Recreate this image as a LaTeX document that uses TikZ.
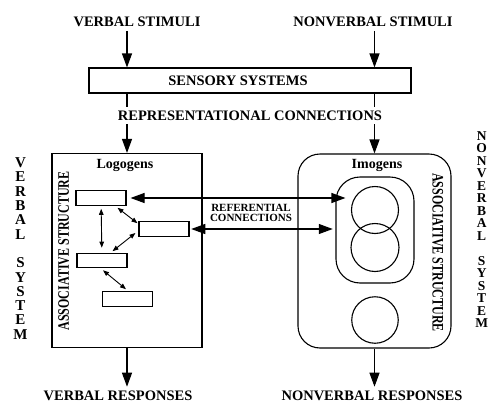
\documentclass[tikz,border=0pt]{standalone}
\usepackage{fontspec}
\setmainfont{Liberation Serif}
\usetikzlibrary{positioning,arrows.meta,shapes.misc}

\begin{document}
\begin{tikzpicture}[x=1pt,y=-1pt,line width=1.1pt,
                    lbl/.style={font=\bfseries\fontsize{14.5pt}{16pt}\selectfont},
                    big/.style={-{Triangle[length=14pt,width=10pt]}},
                    bigboth/.style={{Triangle[length=14pt,width=10pt]}-{Triangle[length=14pt,width=10pt]}},
                    small/.style={line width=0.9pt,{Triangle[length=6pt,width=4.5pt]}-{Triangle[length=6pt,width=4.5pt]}},
                    unit/.style={draw,minimum width=50,minimum height=14.5,inner sep=0},
                    blob/.style={circle,draw,inner sep=0}]

  \useasboundingbox (0,0) rectangle (488,402);

  \node[lbl] (vstim) at (137,22) {VERBAL STIMULI};
  \node[lbl] (nstim) at (373,22) {NONVERBAL STIMULI};
  \node[draw,minimum width=322,minimum height=25] (sens) at (250,80.5) {};
  \node[lbl] (senstxt) at (238,80.5) {SENSORY SYSTEMS};

  % the two systems
  \node[draw,minimum width=150,minimum height=194] (logo) at (127,250.5) {};
  \node[draw,rounded corners=22,minimum width=153,minimum height=194] (imo) at (374.5,251) {};
  \node[font=\bfseries\fontsize{14pt}{16pt}\selectfont] (logotxt) at (125,165) {Logogens};
  \node[font=\bfseries\fontsize{14pt}{16pt}\selectfont] (imotxt) at (377,165) {Imogens};

  \node[unit] (lg1) at (101,198) {};
  \node[unit] (lg2) at (164,229) {};
  \node[unit] (lg3) at (102,260.5) {};
  \node[unit] (lg4) at (127.5,299) {};

  \node[draw,rounded corners=24,minimum width=78,minimum height=106] (imgrp) at (375,230) {};
  \node[blob,minimum size=47] (im1) at (375,210) {};
  \node[blob,minimum size=48] (im2) at (375,247.5) {};
  \node[blob,minimum size=46.5] (im3) at (375,320) {};

  \node[rotate=90,font=\bfseries\fontsize{16pt}{18pt}\selectfont] (lassoc) at (63.7,251)
    {\scalebox{0.75}[1]{ASSOCIATIVE STRUCTURE}};
  \node[rotate=-90,font=\bfseries\fontsize{16pt}{18pt}\selectfont] (rassoc) at (437.7,252.5)
    {\scalebox{0.75}[1]{ASSOCIATIVE STRUCTURE}};

  \node[anchor=north,inner sep=0,align=center,font=\bfseries\fontsize{15pt}{14.3pt}\selectfont] (vsys) at (20.5,157.3)
    {V\\E\\R\\B\\A\\L\\[14.3pt]S\\Y\\S\\T\\E\\M};
  \node[anchor=north,inner sep=0,align=center,font=\bfseries\fontsize{13.5pt}{12.5pt}\selectfont] (nsys) at (481.7,130.7)
    {N\\O\\N\\V\\E\\R\\B\\A\\L\\[12.5pt]S\\Y\\S\\T\\E\\M};

  \node[lbl] (vresp) at (118,395.5) {VERBAL RESPONSES};
  \node[lbl] (nresp) at (372,395.5) {NONVERBAL RESPONSES};

  % stimuli in, responses out
  \path[big]
    (vstim.south -| logo.north) edge (sens.north -| logo.north)
    (nstim.south -| imo.north) edge (sens.north -| imo.north)
    (sens.south -| logo.north) edge (logo.north)
    (sens.south -| imo.north) edge (imo.north)
    (logo.south) edge (logo.south |- vresp.north)
    (imo.south) edge (imo.south |- nresp.north);
  \node[lbl,fill=white,inner xsep=1pt,inner ysep=4pt] (rep) at (250,115.5) {REPRESENTATIONAL CONNECTIONS};

  % associative links among logogens
  \draw[small,shorten <=3pt,shorten >=5pt] (lg1) -- (lg3);
  \draw[small] ([xshift=-9pt,yshift=-2pt]lg1.south east) -- ([xshift=-1pt,yshift=-2pt]lg2.north west);
  \draw[small] ([xshift=-3pt,yshift=-4pt]lg2.west) -- ([xshift=10.5pt,yshift=1.5pt]lg3.north);
  \draw[small] ([xshift=1pt,yshift=-2pt]lg3.south) -- ([xshift=-1.5pt,yshift=2pt]lg4.north);

  % referential links
  \draw[bigboth,shorten <=4pt,shorten >=5.5pt] (lg1.east) -- (im1.west |- lg1.east);
  \draw[bigboth,shorten <=1.7pt,shorten >=2.7pt] (lg2.east) -- (imgrp.west |- lg2.east);
  \node[align=center,font=\bfseries\fontsize{11pt}{10.5pt}\selectfont] (ref) at (251,213) {REFERENTIAL\\CONNECTIONS};

\end{tikzpicture}
\end{document}
